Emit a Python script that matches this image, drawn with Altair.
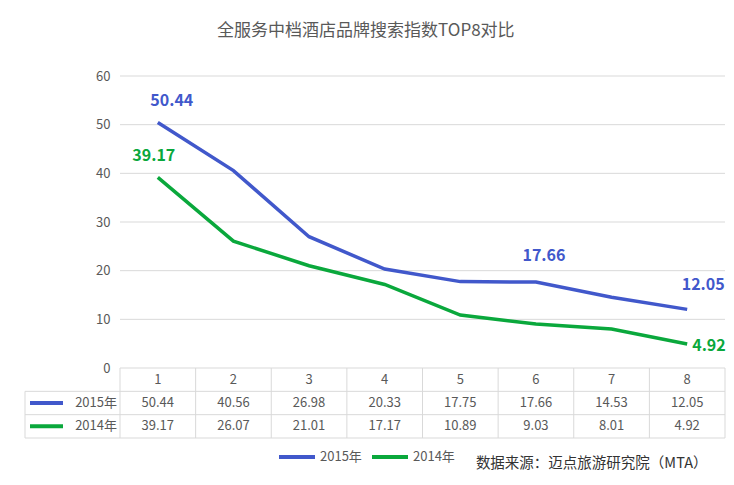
import altair as alt
import pandas as pd

# ---------------- data ----------------
categories = [1, 2, 3, 4, 5, 6, 7, 8]
series_names = ["2015年", "2014年"]
values_2015 = [50.44, 40.56, 26.98, 20.33, 17.75, 17.66, 14.53, 12.05]
values_2014 = [39.17, 26.07, 21.01, 17.17, 10.89, 9.03, 8.01, 4.92]
y_ticks = [0, 10, 20, 30, 40, 50, 60]
title_text = "全服务中档酒店品牌搜索指数TOP8对比"
source_text = "数据来源：迈点旅游研究院（MTA）"

# ---------------- style ----------------
colors = ["#4158CB", "#0AA83C"]
FONT = "Noto Sans CJK SC"
GRAY = "#595959"
GRID = "#d9d9d9"
LEFT_COL_PX = 95
COL_PX = 75.625
n = len(categories)
PLOT_W = LEFT_COL_PX + COL_PX * n
x_hi = n + 0.5
x_lo = 0.5 - LEFT_COL_PX / COL_PX

series_values = {"2015年": values_2015, "2014年": values_2014}
rows = []
for s in series_names:
    for c, v in zip(categories, series_values[s]):
        rows.append({"x": c, "series": s, "value": v})
df = pd.DataFrame(rows)

xs = alt.Scale(domain=[x_lo, x_hi], nice=False, zero=False)
color_scale = alt.Scale(domain=series_names, range=colors)

# ---------------- top: line chart ----------------
ys = alt.Scale(domain=[0, 60], nice=False)
grid_df = pd.DataFrame({"tick": y_ticks, "x": [0.5] * len(y_ticks), "x2": [x_hi] * len(y_ticks)})

grid = alt.Chart(grid_df).mark_rule(color=GRID, strokeWidth=1).encode(
    x=alt.X("x:Q", scale=xs, axis=None),
    x2="x2:Q",
    y=alt.Y("tick:Q", scale=ys, axis=alt.Axis(
        values=y_ticks, grid=False, domain=False, ticks=False, title=None,
        labelColor=GRAY, labelFontSize=13, labelFont=FONT, labelPadding=10,
        offset=-LEFT_COL_PX)),
)

lines = alt.Chart(df).mark_line(strokeWidth=3.5).encode(
    x=alt.X("x:Q", scale=xs, axis=None),
    y=alt.Y("value:Q", scale=ys),
    color=alt.Color("series:N", scale=color_scale, legend=alt.Legend(
        orient="none", legendX=252, legendY=361, direction="horizontal",
        title=None, symbolType="stroke", symbolSize=1296, symbolStrokeWidth=4,
        labelFont=FONT, labelFontSize=13, labelColor=GRAY, labelOffset=3,
        columnPadding=2)),
    detail="series:N",
)


def label(cat, series, dx, dy, align="center"):
    return alt.Chart(df).transform_filter(
        (alt.datum.x == cat) & (alt.datum.series == series)
    ).mark_text(font=FONT, fontSize=16, fontWeight="bold", dx=dx, dy=dy, align=align).encode(
        x=alt.X("x:Q", scale=xs, axis=None),
        y=alt.Y("value:Q", scale=ys),
        text=alt.Text("value:Q", format=".2f"),
        color=alt.Color("series:N", scale=color_scale, legend=None),
    )


labels = [
    label(1, "2015年", 14, -22),
    label(1, "2014年", -4, -21),
    label(6, "2015年", 8, -26),
    label(8, "2015年", 16, -24),
    label(8, "2014年", 5, 2, "left"),
]

top = alt.layer(grid, lines, *labels).properties(width=PLOT_W, height=292)

# ---------------- bottom: data table ----------------
ty = alt.Scale(domain=[0, 3], reverse=True, nice=False, zero=False)
x_axis = alt.Axis(labels=False, ticks=False, domain=False, grid=False,
                  title=source_text, titleFont=FONT, titleFontSize=14.5,
                  titleColor="#333333", titleFontWeight="normal",
                  titleAlign="right", titleX=682, titleY=25, titleBaseline="middle")

head_df = pd.DataFrame({"x": categories, "row": [0.5] * n, "text": [str(c) for c in categories]})
val_rows = []
for i, s in enumerate(series_names):
    for c, v in zip(categories, series_values[s]):
        val_rows.append({"x": c, "row": i + 1.5, "text": f"{v:.2f}"})
val_df = pd.DataFrame(val_rows)
side_df = pd.DataFrame({"x": [0.5] * len(series_names),
                        "row": [i + 1.5 for i in range(len(series_names))],
                        "series": series_names})

h_rules = pd.DataFrame({"x": [x_lo] * 3, "x2": [x_hi] * 3, "y": [1, 2, 3], "y2": [1, 2, 3]})
v_edges = [c - 0.5 for c in categories] + [x_hi]
v_rules = pd.DataFrame({"x": v_edges, "x2": v_edges, "y": [0] * len(v_edges), "y2": [3] * len(v_edges)})
v_left = pd.DataFrame({"x": [x_lo], "x2": [x_lo], "y": [1], "y2": [3]})
rule_df = pd.concat([h_rules, v_rules, v_left], ignore_index=True)

t_rules = alt.Chart(rule_df).mark_rule(color=GRID, strokeWidth=1).encode(
    x=alt.X("x:Q", scale=xs, axis=x_axis), x2="x2:Q",
    y=alt.Y("y:Q", scale=ty, axis=None), y2="y2:Q",
)
t_head = alt.Chart(head_df).mark_text(font=FONT, fontSize=13, color=GRAY).encode(
    x=alt.X("x:Q", scale=xs, axis=x_axis),
    y=alt.Y("row:Q", scale=ty, axis=None),
    text="text:N",
)
t_vals = alt.Chart(val_df).mark_text(font=FONT, fontSize=13, color=GRAY).encode(
    x=alt.X("x:Q", scale=xs, axis=x_axis),
    y=alt.Y("row:Q", scale=ty, axis=None),
    text="text:N",
)
t_side = alt.Chart(side_df).mark_text(font=FONT, fontSize=13, color=GRAY, align="right", dx=-3).encode(
    x=alt.X("x:Q", scale=xs, axis=x_axis),
    y=alt.Y("row:Q", scale=ty, axis=None),
    text="series:N",
)
t_sym = alt.Chart(side_df).mark_point(shape="stroke", filled=False, size=1089, strokeWidth=4,
                                      opacity=1, xOffset=-73.5).encode(
    x=alt.X("x:Q", scale=xs, axis=x_axis),
    y=alt.Y("row:Q", scale=ty, axis=None),
    color=alt.Color("series:N", scale=color_scale, legend=None),
)

bottom = alt.layer(t_rules, t_head, t_vals, t_side, t_sym).properties(width=PLOT_W, height=70)

chart = alt.vconcat(top, bottom, spacing=0, bounds="flush").resolve_scale(
    x="independent", y="independent", color="shared"
).properties(
    title=alt.TitleParams(title_text, font=FONT, fontSize=17, color=GRAY, fontWeight="normal",
                          anchor="middle", offset=30, dx=-8),
    padding={"left": 14, "top": 14, "right": 0, "bottom": 0},
).configure_view(stroke=None, strokeWidth=0)

chart.save("out.html", embed_options={"renderer": "svg", "actions": False})
